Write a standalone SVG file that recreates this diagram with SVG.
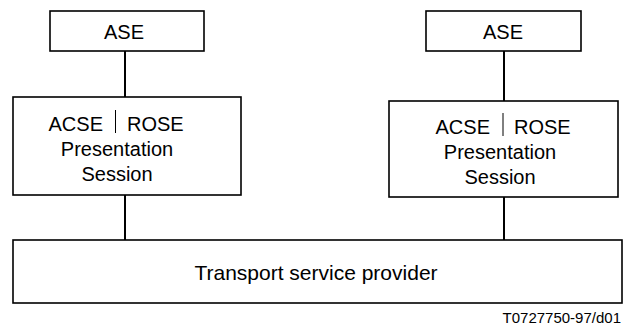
<svg xmlns="http://www.w3.org/2000/svg" width="625" height="327" viewBox="0 0 625 327">
<style>
.box{fill:#fff;stroke:#000;stroke-width:1.6}
.ln{stroke:#000;stroke-width:2;fill:none}
.sep{stroke:#000;stroke-width:1}
text{font-family:"Liberation Sans",Arial,sans-serif;font-size:20px;fill:#000}
.c{text-anchor:middle}
</style>
<rect width="625" height="327" fill="#fff"/>
<g id="connectors">
<line class="ln" x1="125" y1="51" x2="125" y2="97"/>
<line class="ln" x1="125" y1="195" x2="125" y2="240"/>
<line class="ln" x1="504" y1="51" x2="504" y2="101"/>
<line class="ln" x1="504" y1="197" x2="504" y2="240"/>
</g>
<g id="ase-left">
<rect class="box" x="50" y="11" width="154" height="40"/>
<text class="c" x="124" y="39">ASE</text>
</g>
<g id="ase-right">
<rect class="box" x="426" y="11" width="155" height="40"/>
<text class="c" x="503" y="39">ASE</text>
</g>
<g id="stack-left">
<rect class="box" x="13" y="97" width="228" height="98"/>
<text x="103" y="131" text-anchor="end">ACSE</text>
<line class="sep" x1="115.5" y1="110" x2="115.5" y2="133"/>
<text x="127" y="131">ROSE</text>
<text class="c" x="117" y="156">Presentation</text>
<text class="c" x="117" y="181">Session</text>
</g>
<g id="stack-right">
<rect class="box" x="389" y="101" width="229" height="96"/>
<text x="490" y="134" text-anchor="end">ACSE</text>
<line class="sep" x1="503" y1="113" x2="503" y2="136"/>
<text x="514" y="134">ROSE</text>
<text class="c" x="500" y="159">Presentation</text>
<text class="c" x="500" y="184">Session</text>
</g>
<g id="transport">
<rect class="box" x="13" y="240" width="609" height="63"/>
<text class="c" x="316" y="280" style="font-size:21px">Transport service provider</text>
</g>
<text x="621" y="323" text-anchor="end" style="font-size:15px">T0727750-97/d01</text>
</svg>
